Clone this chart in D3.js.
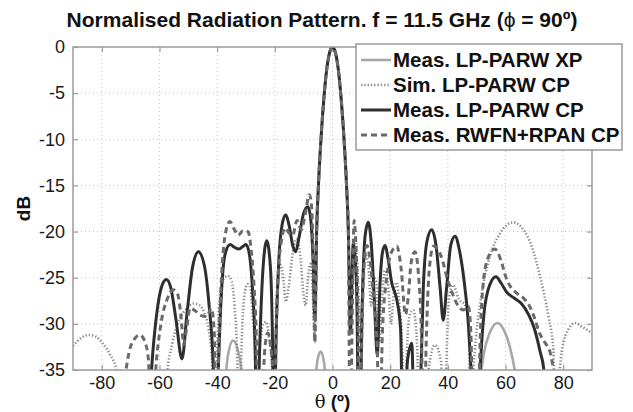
<!DOCTYPE html>
<html>
<head>
<meta charset="utf-8">
<script src="https://cdn.jsdelivr.net/npm/d3@7"></script>
<style>
  body{margin:0;background:#fff;}
  svg{display:block;font-family:"Liberation Sans",Arial,sans-serif;}
</style>
</head>
<body>
<div id="chart"></div>
<script>
// ---- data (theta in deg, level in dB) ----
const xTicks=[-80,-60,-40,-20,0,20,40,60,80];
const yTicks=[0,-5,-10,-15,-20,-25,-30,-35];
const legendLabels=['Meas. LP-PARW XP','Sim. LP-PARW CP','Meas. LP-PARW CP','Meas. RWFN+RPAN CP'];

const mainLobe=[[-5.5,-20],[-4.8,-14.5],[-4,-10],[-3,-5.6],[-2,-2.4],[-1,-0.6],[0,0],[1,-0.6],[2,-2.4],[3,-5.6],[4,-10],[4.8,-14.5],[5.5,-20]];

const xpData=[[-90,-45],[-38.5,-45],[-37.3,-37],[-36.3,-33.5],[-34.5,-31.8],[-32.7,-33],[-31.3,-36],[-30.3,-45],
  [-6.6,-45],[-5.8,-36],[-5,-33.6],[-4.1,-33],[-3.2,-33.7],[-2.4,-36],[-1.6,-45],
  [49.5,-45],[51,-37],[52.5,-33.2],[54.5,-31],[57.2,-29.9],[59.5,-30.7],[61.5,-32.5],[63.2,-35],[64.5,-38],[65.5,-45],[90,-45]];

const simLeft=[[-90,-32.4],[-87.5,-31.6],[-84.5,-31.2],[-82,-31.4],[-79.5,-32.2],[-77,-33.4],[-75,-34.8],[-73.5,-37],[-72,-45],
  [-59,-45],[-57.5,-36],[-55.5,-32],[-53,-29.5],[-50.5,-28.3],[-48.3,-27.8],[-46,-28],[-44.5,-28.8],[-43,-30.5],[-41.8,-34],[-41,-45],
  [-40,-33],[-39,-27],[-37.8,-25.1],[-36.3,-24.8],[-35,-25.4],[-34,-28],[-33,-34],[-32.5,-45],[-31.5,-32],[-30.6,-27],[-29.5,-25.7],
  [-28.6,-26],[-27.6,-29.5],[-26.8,-34],[-26.3,-45],[-25.3,-33],[-24,-30],[-23,-29.8],[-22,-31.5],[-21,-35],[-20.5,-45],[-19.7,-32],
  [-18.8,-25],[-18,-23.6],[-17.1,-25],[-16.2,-27.6],[-15.2,-26],[-14,-22.8],[-12.5,-20.8],[-11.2,-22.5],[-10,-27],[-9.3,-28],
  [-8.5,-25],[-7.6,-23.5],[-6.8,-27],[-6.2,-32]];
const simRight=[[6.2,-31],[7,-23],[7.9,-20.8],[8.8,-25],[9.6,-32],[10.4,-27],[11.4,-22.5],[12.4,-23.5],[13.4,-28],[14.3,-25],
  [15.2,-25.5],[16.2,-32],[17.2,-27],[18.2,-24.2],[19.2,-25.5],[20.3,-30],[21.2,-27],[22.2,-25.5],[23.2,-28],[24.2,-33],[25,-45],
  [25.8,-33],[26.8,-29],[28,-28.5],[29.3,-32],[30.3,-45],[32,-45],[33.3,-35],[35.5,-32.3],[37.6,-34],[38.7,-45],[39.7,-32],
  [40.5,-27],[41.8,-25.8],[43.8,-27.3],[46.3,-28.1],[47.3,-31],[48,-45],[48.7,-36],[49.4,-32.8],[51.8,-26.7],[54.6,-22.7],
  [58.1,-20.2],[62.7,-19],[66.2,-19.8],[69.1,-21.6],[72,-24.9],[74.9,-29.2],[76.6,-32.8],[77.5,-45],[78.3,-38],[79.5,-33],
  [82,-30.5],[84.1,-29.9],[86.5,-30.3],[90,-31]];

const measLeft=[[-90,-45],[-66,-45],[-63.5,-38],[-62.3,-33],[-61,-29],[-59.3,-26],[-57.6,-25.2],[-56,-26.2],[-54.3,-29.5],
  [-52.2,-33.8],[-50.5,-29],[-48.5,-23.8],[-46.5,-22.2],[-44.5,-23.6],[-42.8,-28],[-41.3,-35],[-40.5,-45],[-39.6,-35],
  [-38.4,-26],[-37.2,-22.4],[-35.5,-21.4],[-34,-21.7],[-32.5,-21.9],[-31,-21.6],[-30,-21.4],[-28.8,-22.5],[-27.8,-26],
  [-26.8,-33],[-26.3,-45],[-25.3,-33],[-24.2,-24.5],[-22.8,-21],[-21.5,-24],[-20.8,-32],[-20.3,-45],[-19.6,-32],[-18.6,-23],
  [-17.5,-19.3],[-16.3,-18.2],[-15,-19.4],[-13.8,-21.5],[-12.8,-22.2],[-11.6,-20.6],[-10,-18],[-8.5,-17.3],[-7.5,-18.8],
  [-6.7,-23.5],[-6.1,-29.6]];
const measRight=[[6.2,-31],[7.2,-21.3],[8.3,-25.5],[9.3,-45],[10.3,-28],[11.3,-20.5],[12.4,-19],[13.5,-21.5],[14.6,-28],
  [15.5,-33.4],[16.5,-25.5],[17.3,-22.3],[18.2,-21.5],[19.3,-23],[20.5,-25.5],[22.3,-27.4],[23.6,-30.5],[24.6,-45],[26,-34],
  [27.5,-32.1],[28.6,-45],[30.4,-38],[31.5,-26],[32.8,-21],[34.4,-19.8],[35.9,-21.5],[37.3,-26],[38.4,-29.6],[39.6,-26],
  [41,-21.5],[42.5,-20.5],[44,-22],[45.5,-25],[47,-29.5],[48.5,-38],[49.5,-45],[50.5,-40],[51.2,-35],[52.5,-29],[54.5,-25.8],
  [56.7,-24.9],[58.5,-25.6],[60.5,-26.6],[63,-27.2],[65.5,-27.8],[68,-29],[70,-30.5],[72,-33],[73.3,-35],[74.5,-45],[90,-45]];

const rwfnLeft=[[-90,-45],[-74,-45],[-72.3,-37],[-70.5,-33],[-68.8,-31.7],[-66.8,-31.2],[-65,-32],[-63.8,-34],[-63,-45],
  [-61.3,-35],[-59.5,-30],[-57.3,-27.3],[-55.3,-26.3],[-53.7,-26.8],[-52.6,-29],[-51.6,-32.2],[-50.6,-30.5],[-49.4,-28.3],
  [-47.5,-28.6],[-45.5,-29.1],[-43.6,-29.2],[-42,-28.3],[-41,-31],[-40.3,-45],[-39.4,-32],[-38.5,-25],[-37.3,-20.5],
  [-35.6,-18.9],[-34,-19.8],[-32.7,-20.4],[-31,-19.9],[-29.3,-20],[-28.2,-22],[-27.2,-26],[-26.3,-33],[-25.7,-45],[-24.4,-38],
  [-23.4,-32.5],[-22.5,-31],[-21.4,-32.5],[-20.6,-36],[-20.2,-45],[-19.6,-32],[-18.7,-24],[-17.6,-20.8],[-16.4,-19.6],
  [-15,-20.2],[-13.8,-20.4],[-12.3,-18.8],[-10.8,-19.8],[-9.5,-18.2],[-8,-16],[-7.2,-17.5],[-6.6,-24],[-6.1,-32]];
const rwfnRight=[[6.1,-45],[6.8,-30],[7.5,-18.8],[8.3,-23],[8.9,-30],[9.4,-45],[10.2,-31],[11,-23.5],[12,-21.5],[13,-23],
  [14.3,-27.5],[15.5,-32.5],[16.3,-45],[17.3,-31],[18.8,-25],[20.5,-22.2],[22.3,-21.6],[23.8,-24],[25.3,-29],[26.3,-27],
  [27.3,-23.3],[28.6,-22.2],[29.9,-25],[30.9,-32],[31.6,-45],[32.5,-32],[33.6,-24],[35,-21.6],[36.7,-22],[38.4,-23.4],
  [39.6,-24.9],[40.8,-26],[43.1,-27.8],[45.4,-28.5],[47.1,-28.1],[48,-31],[48.9,-45],[50.5,-40],[51.3,-31],[52.3,-25.5],
  [54,-22.8],[56.3,-21.9],[58.3,-23],[60.2,-25],[62,-26.1],[64,-26.7],[66.2,-27.2],[68.2,-28],[70,-29.3],[71.8,-31],
  [73.6,-32],[75.4,-33],[76.8,-36],[77.5,-45],[90,-45]];

const simData=simLeft.concat(mainLobe,simRight);
const measData=measLeft.concat(mainLobe,measRight);
const rwfnData=rwfnLeft.concat(mainLobe,rwfnRight);

// ---- layout ----
const W=633,H=412,m={t:47,r:41,b:42,l:73};
const w=W-m.l-m.r,h=H-m.t-m.b;
const svg=d3.select('#chart').append('svg').attr('width',W).attr('height',H);
const g=svg.append('g').attr('transform',`translate(${m.l},${m.t})`);
const x=d3.scaleLinear().domain([-90,90]).range([0,w]);
const y=d3.scaleLinear().domain([-35,0]).range([h,0]);
const fmt=d=>String(d); // plain hyphen minus, as in the figure

// grid
g.append('g').selectAll('line').data(xTicks).join('line')
  .attr('x1',d=>x(d)).attr('x2',d=>x(d)).attr('y1',0).attr('y2',h)
  .attr('stroke','#c4c4c4').attr('stroke-width',1).attr('stroke-dasharray','1,3');
g.append('g').selectAll('line').data(yTicks.slice(1,-1)).join('line')
  .attr('y1',d=>y(d)).attr('y2',d=>y(d)).attr('x1',0).attr('x2',w)
  .attr('stroke','#c4c4c4').attr('stroke-width',1).attr('stroke-dasharray','1,3');

// axes (inside ticks, box)
const axCol='#9a9a9a';
const styleAxis=sel=>{sel.select('.domain').remove();sel.selectAll('.tick line').attr('stroke',axCol).attr('stroke-width',1.2);
  sel.selectAll('.tick text').attr('fill','#1a1a1a').attr('font-size',18);};
g.append('g').attr('transform',`translate(0,${h})`)
  .call(d3.axisBottom(x).tickValues(xTicks).tickSizeInner(-5).tickSizeOuter(0).tickPadding(6).tickFormat(fmt)).call(styleAxis);
g.append('g')
  .call(d3.axisLeft(y).tickValues(yTicks).tickSizeInner(-5).tickSizeOuter(0).tickPadding(8).tickFormat(fmt)).call(styleAxis);
g.append('g').call(d3.axisTop(x).tickValues(xTicks).tickSizeInner(-5).tickSizeOuter(0).tickFormat('')).call(styleAxis);
g.append('g').attr('transform',`translate(${w},0)`)
  .call(d3.axisRight(y).tickValues(yTicks).tickSizeInner(-5).tickSizeOuter(0).tickFormat('')).call(styleAxis);

// curves
svg.append('defs').append('clipPath').attr('id','clip').append('rect').attr('width',w).attr('height',h);
const line=d3.line().x(d=>x(d[0])).y(d=>y(d[1])).curve(d3.curveMonotoneX);
const styles=[
  {data:xpData,color:'#a8a8a8',width:2.6,dash:null},
  {data:simData,color:'#8a8a8a',width:2.6,dash:'1.3,2'},
  {data:measData,color:'#2e2e2e',width:3,dash:null},
  {data:rwfnData,color:'#6a6a6a',width:3,dash:'6,4'}
];
const cg=g.append('g').attr('clip-path','url(#clip)');
styles.forEach(s=>{
  cg.append('path').datum(s.data).attr('fill','none').attr('stroke',s.color).attr('stroke-width',s.width)
    .attr('stroke-dasharray',s.dash).attr('stroke-linejoin','round').attr('d',line);
});

g.append('rect').attr('width',w).attr('height',h).attr('fill','none').attr('stroke',axCol).attr('stroke-width',1.5);

// legend
const leg=svg.append('g').attr('transform','translate(356,44)');
leg.append('rect').attr('width',266).attr('height',106).attr('fill','#fff').attr('stroke',axCol).attr('stroke-width',1.5);
legendLabels.forEach((lbl,i)=>{
  const s=styles[i],yy=16+i*25;
  leg.append('line').attr('x1',5).attr('x2',35).attr('y1',yy).attr('y2',yy)
    .attr('stroke',s.color).attr('stroke-width',s.width).attr('stroke-dasharray',s.dash);
  leg.append('text').attr('x',37).attr('y',yy+7).attr('font-size',20.5).attr('font-weight','bold').attr('fill','#111').text(lbl);
});

// title & labels
const t=svg.append('text').attr('x',322).attr('y',27).attr('text-anchor','middle')
  .attr('font-size',21).attr('font-weight','bold').attr('fill','#111');
t.append('tspan').text('Normalised Radiation Pattern. f = 11.5 GHz (');
t.append('tspan').attr('font-weight','normal').text('ϕ');
t.append('tspan').text(' = 90º)');
const xl=svg.append('text').attr('x',m.l+w/2).attr('y',408).attr('text-anchor','middle')
  .attr('font-size',19).attr('fill','#111');
xl.append('tspan').attr('font-family','"DejaVu Serif",serif').attr('font-size',18).text('θ');
xl.append('tspan').attr('font-weight','bold').text(' (º)');
svg.append('text').attr('transform',`translate(30,${m.t+h/2}) rotate(-90)`).attr('text-anchor','middle')
  .attr('font-size',19).attr('font-weight','bold').attr('fill','#111').text('dB');
</script>
</body>
</html>
